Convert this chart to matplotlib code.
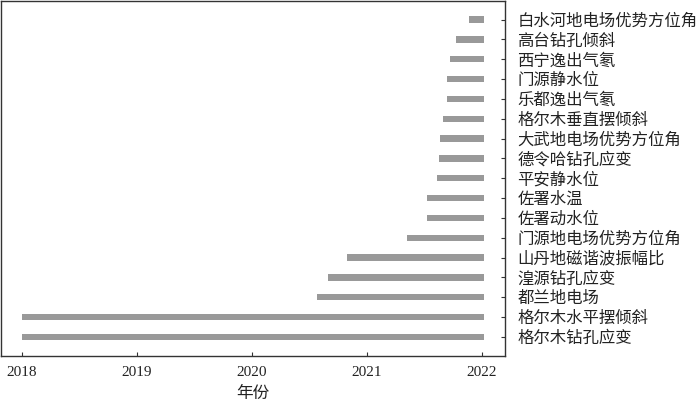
import matplotlib
matplotlib.use("Agg")
import matplotlib.pyplot as plt

stations = ["白水河地电场优势方位角", "高台钻孔倾斜", "西宁逸出气氡", "门源静水位", "乐都逸出气氡",
            "格尔木垂直摆倾斜", "大武地电场优势方位角", "德令哈钻孔应变", "平安静水位", "佐署水温",
            "佐署动水位", "门源地电场优势方位角", "山丹地磁谐波振幅比", "湟源钻孔应变", "都兰地电场",
            "格尔木水平摆倾斜", "格尔木钻孔应变"]
start_year = [2021.89, 2021.78, 2021.72, 2021.70, 2021.70, 2021.66, 2021.64, 2021.63, 2021.61, 2021.52,
              2021.52, 2021.35, 2020.83, 2020.66, 2020.57, 2018.0, 2018.0]
end_year = [2022.02] * len(stations)
xticks = [2018, 2019, 2020, 2021, 2022]

fam = ["Liberation Serif", "Noto Sans CJK SC"]
plt.rcParams["font.family"] = fam

fig = plt.figure(figsize=(7.0, 4.03), dpi=100)
ax = fig.add_axes([0.0015, 0.1166, 0.7196, 0.882])

ypos = list(range(len(stations)))
widths = [e - s for s, e in zip(start_year, end_year)]
ax.barh(ypos, widths, left=start_year, height=0.32, color="#999999")

ax.set_ylim(16.96, -0.96)
ax.set_xlim(2017.82, 2022.2)
ax.set_xticks(xticks)
ax.set_xticklabels([str(t) for t in xticks], fontsize=11)
ax.yaxis.tick_right()
ax.set_yticks(ypos)
ax.set_yticklabels(stations, fontsize=11.8)
ax.tick_params(axis="y", direction="in", length=3, pad=9, colors="#333333", labelcolor="#222222")
ax.tick_params(axis="x", direction="in", length=3, pad=7, colors="#333333", labelcolor="#222222")
for s in ax.spines.values():
    s.set_color("#333333")
    s.set_linewidth(1.0)
ax.set_xlabel("年份", fontsize=12, labelpad=5, color="#222222")

fig.savefig("out.png", dpi=100)
